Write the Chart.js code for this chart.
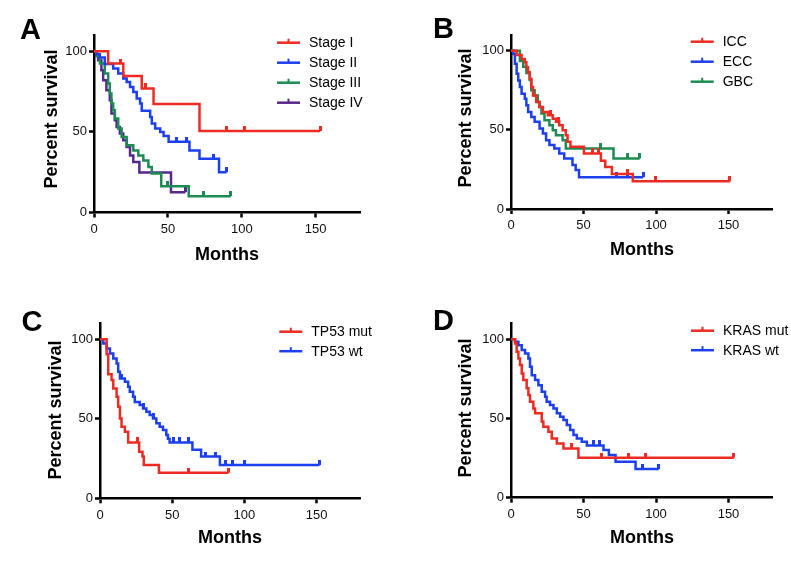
<!DOCTYPE html>
<html>
<head>
<meta charset="utf-8">
<title>Survival curves</title>
<script src="https://cdn.jsdelivr.net/npm/chart.js@4.4.1/dist/chart.umd.min.js"></script>
<style>
  body { margin: 0; background: #fff; width: 791px; height: 563px; position: relative; overflow: hidden; }
  .panel { position: absolute; }
</style>
</head>
<body>
<div class="panel" style="left:0px;top:0px"><canvas id="chartA" width="400" height="270"></canvas></div>
<div class="panel" style="left:400px;top:0px"><canvas id="chartB" width="391" height="270"></canvas></div>
<div class="panel" style="left:0px;top:270px"><canvas id="chartC" width="400" height="293"></canvas></div>
<div class="panel" style="left:400px;top:270px"><canvas id="chartD" width="391" height="293"></canvas></div>
<script>
// ---- axis ticks ----
var xTicks = [0, 50, 100, 150];
var yTicks = [0, 50, 100];

// ---- A: stage ----
var stageLabels = ['Stage I', 'Stage II', 'Stage III', 'Stage IV'];
var stage1_t = [0, 9.6, 19.8, 32.3, 40.3, 71.4];
var stage1_s = [100, 92.3, 84.6, 76.9, 67.3, 50.5];
var stage1_c = [18, 35, 89.6, 101.7, 153];
var stage2_t = [0, 2, 3.9, 7.3, 13, 16.4, 19.8, 22.1, 24.4, 26.6, 28.9, 31.2, 32.3, 38, 39.1, 41.4, 44.8, 47.1, 50.5, 64.6, 71.4, 84.6];
var stage2_s = [100, 98, 96, 92, 89.2, 86.1, 83, 80.9, 77.8, 74.7, 70.6, 67.5, 63, 59.2, 55.1, 52, 49.9, 47.4, 43.8, 38.5, 33.3, 25];
var stage2_c = [55.7, 62.3, 81.2, 89.8];
var stage3_t = [0, 2, 4, 7.3, 9.6, 10.7, 11.8, 13, 14.1, 16.4, 18.7, 22.1, 26.6, 30, 33.4, 36.8, 39.1, 45.5, 64.1];
var stage3_s = [100, 97, 92.3, 86.1, 79.9, 73.7, 67.5, 63.3, 58.2, 52, 46.8, 41.6, 38.5, 35.4, 32.3, 28.2, 24.2, 16.2, 10.1];
var stage3_c = [49.4, 74.4, 92.6];
var stage4_t = [0, 1.5, 2.8, 5, 6.2, 8.4, 10.7, 11.8, 14.1, 15.3, 17.5, 19.8, 22.1, 24.4, 26.6, 30.7, 52.1];
var stage4_s = [100, 97, 94.4, 88.2, 82, 75.8, 69.6, 61.3, 57.2, 53, 48.9, 44.7, 40.6, 35.4, 31.3, 24.8, 12.6];
var stage4_c = [61.9];

// ---- B: tumour site ----
var siteLabels = ['ICC', 'ECC', 'GBC'];
var icc_t = [0, 3.9, 7.3, 9.5, 10.6, 11.8, 12.9, 14.0, 15.2, 17.4, 19.7, 22.0, 25.4, 28.8, 31.0, 33.3, 35.6, 37.8, 39.0, 41.0, 50.3, 62, 65, 69.6, 84];
var icc_s = [100, 97.4, 94.9, 92.8, 89.6, 86.5, 82.3, 77.1, 71.8, 67.6, 64.5, 61.4, 59.2, 57.1, 55.1, 53.0, 49.8, 46.7, 42.5, 39.3, 35.1, 30.5, 26.5, 22.1, 17.5];
var icc_c = [27, 33, 56, 60.5, 80, 99.5, 151];
var ecc_t = [0, 1.6, 2.7, 3.9, 5.0, 6.1, 7.3, 9.5, 10.6, 11.8, 14.0, 16.3, 19.7, 22.0, 24.2, 26.5, 29.9, 33.3, 36.7, 42.4, 44.6, 46.9];
var ecc_s = [100, 98, 91.8, 85.5, 81.3, 77.1, 72.9, 69.7, 65.6, 61.4, 58.2, 55.1, 50.9, 47.7, 43.5, 40.4, 38.2, 35.1, 32.0, 27.8, 24.6, 20.1];
var ecc_c = [73, 80, 91.1];
var gbc_t = [0, 6.1, 8.4, 10.6, 12.9, 14.0, 16.3, 18.5, 19.7, 21.0, 23.1, 26.5, 28.8, 31.0, 35.6, 37.8, 70.7];
var gbc_s = [100, 93.5, 90, 86, 81.5, 75, 71.8, 67.6, 64.5, 60.3, 56.1, 52.9, 49.8, 46.6, 43.5, 38.3, 32.0];
var gbc_c = [62, 80.2, 88.8];

// ---- C: TP53 ----
var tp53Labels = ['TP53 mut', 'TP53 wt'];
var tp53mut_t = [0, 4.6, 5.7, 8.0, 9.2, 11.5, 12.6, 13.8, 14.9, 17.2, 19.5, 27.1, 29.4, 30.3, 40.8];
var tp53mut_s = [100, 90.5, 77.9, 74.3, 69.0, 63.8, 57.5, 50.2, 44.9, 41.8, 35.1, 29.3, 26.2, 20.9, 16.1];
var tp53mut_c = [25.9, 61.5, 89.0];
var tp53wt_t = [0, 2.3, 4.6, 6.9, 9.2, 11.5, 12.6, 13.8, 17.2, 19.5, 20.6, 22.9, 24.1, 27.5, 29.8, 32.1, 34.4, 36.7, 39.0, 41.3, 43.6, 45.9, 47, 48.2, 64, 70, 83];
var tp53wt_s = [100, 97.3, 94.1, 91.0, 87.8, 84.7, 79.5, 75.3, 73.2, 70.1, 66.9, 63.8, 60.6, 58.6, 56.5, 54.4, 52.3, 50.2, 47.1, 45.0, 42.9, 39.8, 37.5, 35.1, 30.5, 26.2, 20.9];
var tp53wt_c = [15, 30, 37, 51, 55, 61, 73, 80.3, 87.2, 91.8, 100.3, 152];

// ---- D: KRAS ----
var krasLabels = ['KRAS mut', 'KRAS wt'];
var krasmut_t = [0, 2.8, 3.9, 5.1, 6.2, 7.4, 8.5, 10.8, 12.0, 13.1, 15.4, 16.6, 21.2, 22.3, 25.8, 28.1, 31.6, 36.2, 46.5];
var krasmut_s = [100, 97.3, 92.0, 87.8, 83.7, 78.4, 74.2, 69.0, 64.7, 60.5, 56.3, 53.2, 48.0, 44.8, 41.6, 37.4, 34.2, 31.1, 25.2];
var krasmut_c = [41.9, 62.2, 81.1, 92.6, 153.6];
var kraswt_t = [0, 2.8, 5.1, 7.4, 9.7, 12.0, 13.1, 14.3, 16.6, 18.9, 21.2, 23.5, 24.6, 26.9, 29.3, 31.6, 33.9, 36.2, 38.5, 40.8, 43.1, 45.4, 48.8, 52.3, 63.8, 67.5, 72.1, 85.9];
var kraswt_s = [100, 98.3, 96.2, 93.1, 91.0, 87.8, 82.6, 77.3, 74.2, 71.0, 66.8, 63.7, 60.5, 58.4, 56.3, 53.2, 51.1, 49.0, 45.8, 42.7, 39.5, 37.4, 35.3, 33.0, 30.1, 26.9, 22.7, 18.1];
var kraswt_c = [57, 61, 90.5, 101.9];

var RED = '#ee2b22', BLUE = '#1c3ff0', GREEN = '#1d8c52', PURPLE = '#56288e';
var FONT = '"Liberation Sans", Arial, Helvetica, sans-serif';

// small upward tick used for censored cases
function censorMark(color) {
    var c = document.createElement('canvas');
    c.width = 3;
    c.height = 10;
    var g = c.getContext('2d');
    g.fillStyle = color;
    g.fillRect(0, 0, 3, 5);
    return c;
}

// merge event steps and censor times into one point list
function kmPoints(times, surv, cens) {
    var pts = times.map(function(t, i) { return {x: t, y: surv[i], c: 0}; });
    cens.forEach(function(t) {
        var k = 0;
        while (k + 1 < times.length && times[k + 1] <= t) k++;
        pts.push({x: t, y: surv[k], c: 1});
    });
    pts.sort(function(a, b) { return (a.x - b.x) || (a.c - b.c); });
    return pts;
}

function kmDataset(label, color, times, surv, cens) {
    return {
        label: label,
        data: kmPoints(times, surv, cens),
        stepped: 'before',
        borderColor: color,
        backgroundColor: color,
        borderWidth: 2.5,
        fill: false,
        pointStyle: censorMark(color),
        pointRadius: function(ctx) { return ctx.raw && ctx.raw.c ? 3 : 0; },
        pointHoverRadius: 0
    };
}

// letter, axis titles and legend drawn on top of the chart
var panelText = {
    id: 'panelText',
    afterDraw: function(chart) {
        var p = chart.options.plugins.panelText;
        var ctx = chart.ctx;
        ctx.save();
        ctx.fillStyle = '#000';
        ctx.textAlign = 'left';
        ctx.textBaseline = 'alphabetic';
        ctx.font = 'bold 29px ' + FONT;
        ctx.fillText(p.letter, p.letterX, p.letterY);

        ctx.font = 'bold 18px ' + FONT;
        ctx.textAlign = 'center';
        ctx.fillText('Months', p.xTitleX, p.xTitleY);

        ctx.save();
        ctx.translate(p.yTitleX, p.yTitleY);
        ctx.rotate(-Math.PI / 2);
        ctx.fillText('Percent survival', 0, 0);
        ctx.restore();

        ctx.font = '14px ' + FONT;
        ctx.textAlign = 'left';
        ctx.textBaseline = 'middle';
        chart.data.datasets.forEach(function(ds, i) {
            var y = p.legY + i * p.legStep;
            ctx.strokeStyle = ds.borderColor;
            ctx.lineWidth = 2.5;
            ctx.beginPath();
            ctx.moveTo(p.legX, y);
            ctx.lineTo(p.legX + 23, y);
            ctx.stroke();
            ctx.fillStyle = ds.borderColor;
            ctx.fillRect(p.legX + 10.5, y - 4, 2, 4);
            ctx.fillStyle = '#000';
            ctx.fillText(ds.label, p.legX + 32, y + 0.5);
        });
        ctx.restore();
    }
};

function makePanel(id, datasets, area, text) {
    var canvas = document.getElementById(id);
    var W = canvas.width, H = canvas.height;
    var tickFont = {family: FONT, size: 13};
    return new Chart(canvas, {
        type: 'line',
        data: {datasets: datasets},
        options: {
            responsive: false,
            animation: false,
            devicePixelRatio: 1,
            layout: {padding: {left: 0, top: area.top, right: W - area.right, bottom: 0}},
            plugins: {legend: {display: false}, tooltip: {enabled: false}, panelText: text},
            scales: {
                x: {
                    type: 'linear', min: 0, max: 180,
                    afterBuildTicks: function(s) { s.ticks = xTicks.map(function(v) { return {value: v}; }); },
                    afterFit: function(s) { s.height = H - area.bottom; },
                    grid: {display: true, drawOnChartArea: false, drawTicks: true, tickLength: 5, tickWidth: 2.5, tickColor: '#000'},
                    border: {display: true, width: 2.5, color: '#000'},
                    ticks: {padding: 4, color: '#111', font: tickFont, maxRotation: 0}
                },
                y: {
                    type: 'linear', min: 0, max: 110,
                    afterBuildTicks: function(s) { s.ticks = yTicks.map(function(v) { return {value: v}; }); },
                    afterFit: function(s) { s.width = area.left; },
                    grid: {display: true, drawOnChartArea: false, drawTicks: true, tickLength: 5, tickWidth: 2.5, tickColor: '#000'},
                    border: {display: true, width: 2.5, color: '#000'},
                    ticks: {padding: 2, color: '#111', font: tickFont}
                }
            }
        },
        plugins: [panelText]
    });
}

makePanel('chartA', [
    kmDataset(stageLabels[0], RED, stage1_t, stage1_s, stage1_c),
    kmDataset(stageLabels[1], BLUE, stage2_t, stage2_s, stage2_c),
    kmDataset(stageLabels[2], GREEN, stage3_t, stage3_s, stage3_c),
    kmDataset(stageLabels[3], PURPLE, stage4_t, stage4_s, stage4_c)
], {left: 94, right: 360, top: 35, bottom: 212.5},
{letter: 'A', letterX: 20, letterY: 39, xTitleX: 227, xTitleY: 259.5, yTitleX: 56.5, yTitleY: 119,
 legX: 277, legY: 42.7, legStep: 20});

makePanel('chartB', [
    kmDataset(siteLabels[0], RED, icc_t, icc_s, icc_c),
    kmDataset(siteLabels[1], BLUE, ecc_t, ecc_s, ecc_c),
    kmDataset(siteLabels[2], GREEN, gbc_t, gbc_s, gbc_c)
], {left: 111, right: 372, top: 35, bottom: 209},
{letter: 'B', letterX: 33, letterY: 38.3, xTitleX: 242, xTitleY: 255, yTitleX: 71, yTitleY: 118,
 legX: 290.7, legY: 41.7, legStep: 20});

makePanel('chartC', [
    kmDataset(tp53Labels[0], RED, tp53mut_t, tp53mut_s, tp53mut_c),
    kmDataset(tp53Labels[1], BLUE, tp53wt_t, tp53wt_s, tp53wt_c)
], {left: 100, right: 360, top: 53.3, bottom: 228.3},
{letter: 'C', letterX: 21.5, letterY: 60.7, xTitleX: 230, xTitleY: 273.3, yTitleX: 60.5, yTitleY: 140,
 legX: 279.3, legY: 61.7, legStep: 19.5});

makePanel('chartD', [
    kmDataset(krasLabels[0], RED, krasmut_t, krasmut_s, krasmut_c),
    kmDataset(krasLabels[1], BLUE, kraswt_t, kraswt_s, kraswt_c)
], {left: 111, right: 372, top: 53.3, bottom: 227.7},
{letter: 'D', letterX: 33, letterY: 60, xTitleX: 242, xTitleY: 273.3, yTitleX: 71, yTitleY: 138,
 legX: 291, legY: 60.7, legStep: 19.5});
</script>
</body>
</html>
